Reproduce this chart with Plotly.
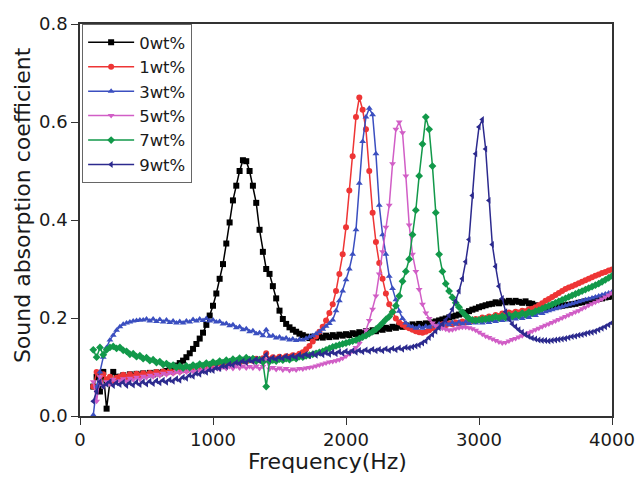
"""plot.py — coeficiente de absorção sonora vs. frequência (0–9 wt%)."""
import plotly.graph_objects as go

# ─── Dados (passo de 25 Hz) ───────────────────────────────────────────────
FREQ = list(range(100, 4001, 25))

ABS_0WT = [
    0.06, 0.08, 0.05, 0.09, 0.015, 0.07, 0.09, 0.08,
    0.08, 0.083, 0.079, 0.085, 0.082, 0.086, 0.083, 0.087,
    0.084, 0.088, 0.085, 0.089, 0.087, 0.09, 0.092, 0.094,
    0.098, 0.103, 0.108, 0.113, 0.12, 0.128, 0.137, 0.147,
    0.158, 0.17, 0.186, 0.205, 0.225, 0.25, 0.28, 0.31,
    0.352, 0.395, 0.44, 0.47, 0.50, 0.522, 0.52, 0.50,
    0.47, 0.435, 0.38, 0.335, 0.30, 0.29, 0.265, 0.24,
    0.215, 0.198, 0.188, 0.181, 0.176, 0.172, 0.168, 0.165,
    0.162, 0.159, 0.162, 0.160, 0.163, 0.160, 0.164, 0.161,
    0.165, 0.162, 0.166, 0.164, 0.167, 0.165, 0.169, 0.167,
    0.171, 0.169, 0.173, 0.171, 0.175, 0.173, 0.177, 0.176,
    0.180, 0.178, 0.182, 0.180, 0.184, 0.182, 0.185, 0.183,
    0.187, 0.184, 0.188, 0.186, 0.189, 0.188, 0.191, 0.193,
    0.195, 0.197, 0.199, 0.201, 0.203, 0.205, 0.207, 0.209,
    0.211, 0.214, 0.217, 0.219, 0.222, 0.224, 0.226, 0.228,
    0.229, 0.232, 0.230, 0.234, 0.232, 0.235, 0.232, 0.235,
    0.233, 0.231, 0.234, 0.230, 0.229, 0.226, 0.224, 0.222,
    0.221, 0.221, 0.222, 0.223, 0.224, 0.225, 0.226, 0.227,
    0.228, 0.229, 0.231, 0.232, 0.234, 0.235, 0.236, 0.238,
    0.239, 0.240, 0.242, 0.243, 0.245,
]

ABS_1WT = [
    0.06, 0.09, 0.07, 0.085, 0.075, 0.08, 0.07, 0.078,
    0.08, 0.084, 0.079, 0.085, 0.080, 0.086, 0.082, 0.087,
    0.083, 0.088, 0.085, 0.090, 0.086, 0.091, 0.088, 0.092,
    0.089, 0.094, 0.091, 0.096, 0.093, 0.098, 0.095, 0.099,
    0.097, 0.101, 0.099, 0.103, 0.101, 0.105, 0.103, 0.107,
    0.105, 0.109, 0.107, 0.111, 0.109, 0.113, 0.111, 0.115,
    0.113, 0.117, 0.114, 0.118, 0.128, 0.116, 0.120, 0.117,
    0.121, 0.118, 0.122, 0.121, 0.124, 0.123, 0.127, 0.130,
    0.136, 0.143, 0.152, 0.162, 0.172, 0.182, 0.195, 0.21,
    0.228, 0.255, 0.29, 0.33, 0.385, 0.46, 0.53, 0.61,
    0.65, 0.625, 0.585, 0.50, 0.415, 0.355, 0.312, 0.28,
    0.25, 0.228, 0.212, 0.199, 0.191, 0.186, 0.182, 0.179,
    0.176, 0.173, 0.171, 0.170, 0.172, 0.175, 0.179, 0.182,
    0.184, 0.187, 0.185, 0.189, 0.187, 0.191, 0.189, 0.193,
    0.191, 0.195, 0.194, 0.198, 0.197, 0.201, 0.199, 0.203,
    0.201, 0.206, 0.204, 0.209, 0.207, 0.211, 0.209, 0.213,
    0.211, 0.215, 0.214, 0.218, 0.219, 0.222, 0.226, 0.230,
    0.235, 0.239, 0.243, 0.247, 0.251, 0.255, 0.259, 0.262,
    0.265, 0.268, 0.271, 0.274, 0.277, 0.280, 0.283, 0.286,
    0.289, 0.292, 0.294, 0.297, 0.299,
]

ABS_3WT = [
    0.002, 0.06, 0.09, 0.12, 0.14, 0.155, 0.165, 0.175,
    0.182, 0.187, 0.19, 0.192, 0.194, 0.195, 0.196, 0.196,
    0.198, 0.194, 0.198, 0.193, 0.197, 0.192, 0.196, 0.191,
    0.194, 0.190, 0.193, 0.190, 0.194, 0.192, 0.197, 0.194,
    0.198, 0.195, 0.199, 0.194, 0.196, 0.192, 0.193, 0.188,
    0.189, 0.184, 0.186, 0.180, 0.182, 0.176, 0.178, 0.172,
    0.174, 0.168, 0.170, 0.164, 0.176, 0.163, 0.164, 0.159,
    0.161, 0.157, 0.159, 0.155, 0.157, 0.154, 0.156, 0.155,
    0.158, 0.161, 0.164, 0.168, 0.172, 0.177, 0.183, 0.189,
    0.196, 0.215, 0.235, 0.255, 0.278, 0.30, 0.33, 0.38,
    0.475, 0.56, 0.61, 0.628, 0.615, 0.535, 0.43, 0.37,
    0.33, 0.285, 0.26, 0.237, 0.214, 0.199, 0.19, 0.184,
    0.182, 0.179, 0.182, 0.179, 0.183, 0.181, 0.186, 0.183,
    0.188, 0.185, 0.190, 0.186, 0.191, 0.187, 0.192, 0.188,
    0.192, 0.189, 0.193, 0.190, 0.194, 0.190, 0.194, 0.191,
    0.195, 0.193, 0.197, 0.195, 0.199, 0.196, 0.200, 0.198,
    0.202, 0.199, 0.203, 0.201, 0.206, 0.205, 0.210, 0.209,
    0.213, 0.215, 0.217, 0.219, 0.221, 0.223, 0.225, 0.227,
    0.229, 0.231, 0.233, 0.235, 0.237, 0.239, 0.241, 0.243,
    0.245, 0.247, 0.249, 0.251, 0.253,
]

ABS_5WT = [
    0.07, 0.03, 0.08, 0.06, 0.07, 0.065, 0.075, 0.07,
    0.072, 0.076, 0.071, 0.077, 0.074, 0.079, 0.075, 0.081,
    0.078, 0.083, 0.080, 0.085, 0.082, 0.087, 0.084, 0.089,
    0.086, 0.091, 0.088, 0.092, 0.090, 0.094, 0.091, 0.096,
    0.092, 0.097, 0.094, 0.098, 0.095, 0.099, 0.096, 0.100,
    0.097, 0.101, 0.097, 0.102, 0.098, 0.102, 0.098, 0.101,
    0.098, 0.102, 0.097, 0.101, 0.115, 0.096, 0.099, 0.095,
    0.098, 0.094, 0.097, 0.093, 0.096, 0.094, 0.097, 0.096,
    0.098, 0.099, 0.1, 0.102, 0.104, 0.106, 0.108, 0.11,
    0.111, 0.113, 0.115, 0.118, 0.122, 0.127, 0.133, 0.14,
    0.148, 0.16, 0.175, 0.195, 0.218, 0.245, 0.29, 0.335,
    0.385, 0.43, 0.515, 0.585, 0.60, 0.578, 0.49, 0.39,
    0.33, 0.295, 0.258, 0.228, 0.21, 0.199, 0.19, 0.184,
    0.181, 0.179, 0.177, 0.175, 0.176, 0.178, 0.180, 0.181,
    0.181, 0.180, 0.178, 0.175, 0.171, 0.167, 0.163, 0.16,
    0.157, 0.154, 0.151, 0.149, 0.15, 0.153, 0.156, 0.158,
    0.161, 0.164, 0.167, 0.170, 0.173, 0.176, 0.179, 0.182,
    0.185, 0.188, 0.191, 0.194, 0.197, 0.200, 0.203, 0.206,
    0.209, 0.212, 0.215, 0.219, 0.222, 0.226, 0.229, 0.232,
    0.235, 0.239, 0.243, 0.247, 0.251,
]

ABS_7WT = [
    0.135, 0.12, 0.14, 0.125, 0.135, 0.14, 0.142, 0.138,
    0.14, 0.134, 0.132, 0.126, 0.127, 0.121, 0.123, 0.117,
    0.119, 0.113, 0.115, 0.109, 0.111, 0.105, 0.107, 0.102,
    0.104, 0.099, 0.102, 0.098, 0.102, 0.099, 0.104, 0.101,
    0.106, 0.103, 0.108, 0.105, 0.110, 0.107, 0.112, 0.109,
    0.114, 0.111, 0.116, 0.113, 0.118, 0.114, 0.119, 0.115,
    0.117, 0.112, 0.115, 0.110, 0.06, 0.111, 0.114, 0.112,
    0.116, 0.114, 0.117, 0.115, 0.119, 0.117, 0.121, 0.120,
    0.123, 0.124, 0.126, 0.128, 0.13, 0.132, 0.135, 0.138,
    0.141, 0.143, 0.145, 0.147, 0.149, 0.151, 0.153, 0.155,
    0.158, 0.161, 0.164, 0.168, 0.172, 0.177, 0.183, 0.19,
    0.197, 0.203, 0.212, 0.225, 0.245, 0.275, 0.295, 0.32,
    0.37, 0.42, 0.49, 0.555, 0.61, 0.585, 0.51, 0.415,
    0.33, 0.295, 0.27, 0.255, 0.242, 0.231, 0.222, 0.212,
    0.205, 0.199, 0.196, 0.195, 0.196, 0.197, 0.198, 0.199,
    0.2, 0.203, 0.200, 0.204, 0.201, 0.206, 0.203, 0.208,
    0.205, 0.210, 0.207, 0.212, 0.210, 0.214, 0.216, 0.219,
    0.222, 0.225, 0.228, 0.231, 0.234, 0.237, 0.24, 0.243,
    0.246, 0.249, 0.252, 0.255, 0.258, 0.261, 0.264, 0.267,
    0.27, 0.274, 0.278, 0.282, 0.286,
]

ABS_9WT = [
    0.03, 0.05, 0.07, 0.06, 0.065, 0.07, 0.062, 0.068,
    0.064, 0.069, 0.062, 0.068, 0.063, 0.069, 0.064, 0.070,
    0.065, 0.071, 0.066, 0.072, 0.068, 0.073, 0.069, 0.074,
    0.071, 0.076, 0.073, 0.079, 0.077, 0.083, 0.081, 0.087,
    0.085, 0.091, 0.089, 0.094, 0.093, 0.098, 0.097, 0.102,
    0.101, 0.106, 0.104, 0.109, 0.107, 0.112, 0.109, 0.114,
    0.111, 0.116, 0.113, 0.117, 0.125, 0.115, 0.119, 0.116,
    0.12, 0.118, 0.122, 0.119, 0.123, 0.120, 0.125, 0.122,
    0.126, 0.123, 0.127, 0.124, 0.128, 0.125, 0.129, 0.126,
    0.130, 0.127, 0.131, 0.128, 0.132, 0.129, 0.133, 0.130,
    0.134, 0.131, 0.135, 0.132, 0.136, 0.133, 0.136, 0.133,
    0.137, 0.134, 0.138, 0.135, 0.139, 0.136, 0.140, 0.139,
    0.141, 0.143, 0.145, 0.149, 0.153, 0.16, 0.166, 0.173,
    0.18, 0.188, 0.196, 0.205, 0.218, 0.235, 0.255, 0.28,
    0.315, 0.36, 0.45, 0.535, 0.59, 0.605, 0.545, 0.44,
    0.35, 0.305, 0.265, 0.24, 0.213, 0.198, 0.188, 0.182,
    0.176, 0.171, 0.166, 0.162, 0.159, 0.157, 0.155, 0.154,
    0.154, 0.153, 0.154, 0.155, 0.156, 0.157, 0.158, 0.16,
    0.162, 0.163, 0.165, 0.166, 0.168, 0.17, 0.171, 0.173,
    0.176, 0.179, 0.182, 0.186, 0.19,
]

NOMES = ["0wt%", "1wt%", "3wt%", "5wt%", "7wt%", "9wt%"]
SERIES = [ABS_0WT, ABS_1WT, ABS_3WT, ABS_5WT, ABS_7WT, ABS_9WT]

X_TICKS = [0, 1000, 2000, 3000, 4000]
Y_TICKS = [0.0, 0.2, 0.4, 0.6, 0.8]

# ─── Estilo ───────────────────────────────────────────────────────────────
CORES = ["#000000", "#ee3535", "#3b4fc0", "#d15ec6", "#12994a", "#2c2a8e"]
SIMBOLOS = ["square", "circle", "triangle-up", "triangle-down", "diamond", "triangle-left"]

FONTE = "DejaVu Sans, Liberation Sans, sans-serif"
COR_TEXTO = "#1a1a1a"

_AXIS_BASE = dict(
    showline=True,
    linecolor="#333333",
    linewidth=1.6,
    mirror=True,
    ticks="outside",
    ticklen=7,
    tickwidth=1.4,
    tickcolor="#333333",
    showgrid=False,
    zeroline=False,
    automargin=False,
    tickfont=dict(size=18, color=COR_TEXTO, family=FONTE),
)

_TITULO = dict(
    xref="paper",
    yref="paper",
    showarrow=False,
    font=dict(size=22, family=FONTE, color=COR_TEXTO),
    xanchor="center",
    yanchor="middle",
)

# ─── Figura ───────────────────────────────────────────────────────────────
fig = go.Figure()
for nome, vals, cor, simb in zip(NOMES, SERIES, CORES, SIMBOLOS):
    assert len(vals) == len(FREQ), nome
    fig.add_trace(
        go.Scatter(
            x=FREQ,
            y=vals,
            name=nome,
            mode="lines+markers",
            line=dict(color=cor, width=1.5),
            marker=dict(symbol=simb, size=6, color=cor, line_width=0),
        )
    )

fig.update_layout(
    width=636,
    height=477,
    paper_bgcolor="white",
    plot_bgcolor="white",
    margin=dict(l=80, r=24, t=24, b=61),
    font=dict(family=FONTE, color=COR_TEXTO),
    xaxis=dict(
        _AXIS_BASE,
        range=[0, 4000],
        tickvals=X_TICKS,
        ticklabelstandoff=0,
    ),
    yaxis=dict(
        _AXIS_BASE,
        range=[0, 0.8],
        tickvals=Y_TICKS,
        tickformat=".1f",
    ),
    legend=dict(
        x=0.004,
        y=1,
        xanchor="left",
        yanchor="top",
        bgcolor="white",
        bordercolor="#666666",
        borderwidth=1,
        font=dict(size=16.5, family=FONTE, color=COR_TEXTO),
        tracegroupgap=0,
        itemwidth=46,
    ),
    annotations=[
        dict(_TITULO, text="Frequency(Hz)", x=0.466, y=-0.117),
        dict(_TITULO, text="Sound absorption coefficient", x=-0.109, y=0.538, textangle=-90),
    ],
)

# a página padrão tem margem de 8 px no body; zera para alinhar a figura
fig.write_html(
    "out.html",
    config={"displayModeBar": False},
    post_script="document.body.style.margin='0';",
)
